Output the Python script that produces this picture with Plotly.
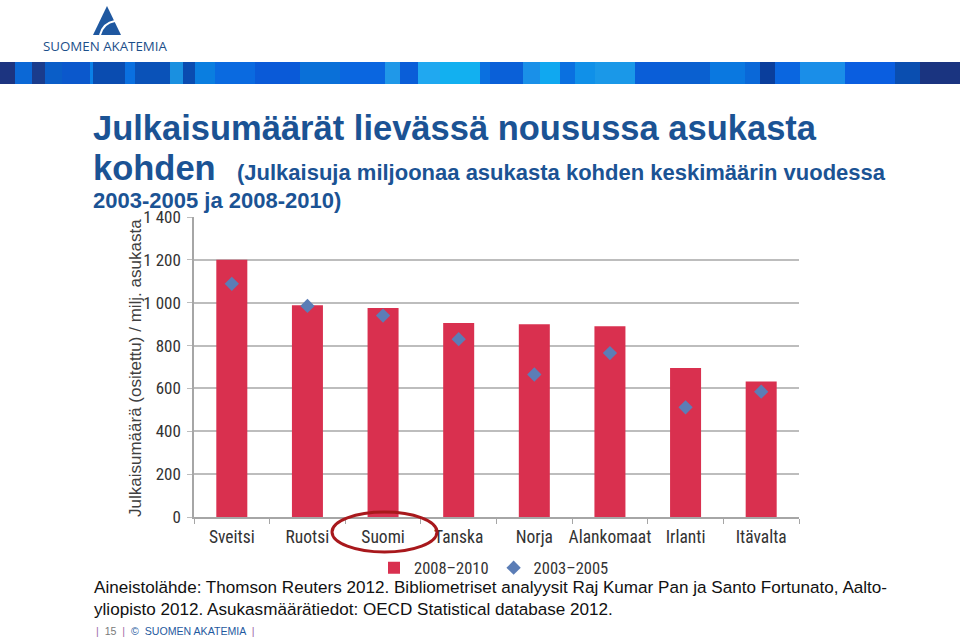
import plotly.graph_objects as go

# ---------------- data ----------------
categories = ["Sveitsi", "Ruotsi", "Suomi", "Tanska", "Norja", "Alankomaat", "Irlanti", "Itävalta"]
values_2008_2010 = [1200, 988, 975, 905, 900, 890, 695, 632]
values_2003_2005 = [1088, 985, 940, 830, 665, 765, 512, 585]
series_names = ["2008–2010", "2003–2005"]
y_tick_values = [0, 200, 400, 600, 800, 1000, 1200, 1400]
y_tick_labels = ["0", "200", "400", "600", "800", "1 000", "1 200", "1 400"]

# ---------------- geometry helpers (pixel -> paper) ----------------
W_FIG, H_FIG = 960, 638
L, R, T, B = 194, 799, 217, 517
PW, PH = R - L, B - T


def px(x):
    return (x - L) / PW


def py(y):
    return (B - y) / PH


NARROW = "Liberation Sans Narrow, Roboto Condensed, Arial Narrow, DejaVu Sans Condensed, sans-serif"
SANS = "Liberation Sans, Arial, Helvetica, sans-serif"
TITLE_BLUE = "#1b5394"

fig = go.Figure()
fig.add_trace(go.Bar(
    x=categories, y=values_2008_2010, name=series_names[0],
    marker=dict(color="#d9304f", line=dict(width=0)),
    width=0.41,
))
fig.add_trace(go.Scatter(
    x=categories, y=values_2003_2005, name=series_names[1], mode="markers",
    marker=dict(symbol="diamond", size=11, color="#5b7db6"),
))

shapes = []
annotations = []

# banner stripes
stripes = [
    (0, 15, "#1c3480"), (15, 32, "#0b68d6"), (32, 45, "#1a3c8c"), (45, 62, "#0a5ec8"),
    (62, 90, "#0b58cc"), (90, 93, "#0a80e8"), (93, 125, "#0a4cb0"), (125, 135, "#0a70e0"),
    (135, 170, "#0a52b8"), (170, 183, "#1a90e0"), (183, 195, "#0a4cb0"), (195, 215, "#0a7ee0"),
    (215, 255, "#0a6ae0"), (255, 300, "#0a5ad8"), (300, 340, "#0a70d8"), (340, 385, "#0a66e0"),
    (385, 400, "#2098e8"), (400, 418, "#0a5ed8"), (418, 440, "#20a8f0"), (440, 480, "#12b0f0"),
    (480, 490, "#0a70e0"), (490, 523, "#0a60d8"), (523, 540, "#1a90e8"), (540, 560, "#10a8f0"),
    (560, 575, "#0a70e0"), (575, 595, "#1090e8"), (595, 635, "#1a98e8"), (635, 670, "#0a5ed8"),
    (670, 710, "#0a60d0"), (710, 745, "#0a78e0"), (745, 760, "#0a68d8"), (760, 775, "#0a3e9c"),
    (775, 800, "#0a66e0"), (800, 845, "#1a8ee8"), (845, 895, "#0a5ee0"), (895, 920, "#0a4eb0"),
    (920, 960, "#1a3480"),
]
for x0, x1, c in stripes:
    shapes.append(dict(type="rect", xref="paper", yref="paper",
                       x0=px(x0), x1=px(x1), y0=py(84), y1=py(62),
                       fillcolor=c, line=dict(width=0), layer="below"))


def P(x, y):
    return f"{px(x):.5f},{py(y):.5f}"


# logo triangle
shapes.append(dict(type="path", xref="paper", yref="paper",
                   path=f"M {P(107, 6)} L {P(121, 35)} L {P(93, 35)} Z",
                   fillcolor="#1f58a0", line=dict(width=0)))
shapes.append(dict(type="path", xref="paper", yref="paper",
                   path=f"M {P(100, 35)} Q {P(103, 23)} {P(115, 21)}",
                   line=dict(color="white", width=2)))
annotations.append(dict(xref="paper", yref="paper", x=px(41), y=py(46), xanchor="left", yanchor="middle",
                        text="SUOMEN AKATEMIA", showarrow=False,
                        font=dict(family="Open Sans, Liberation Sans, sans-serif", size=13.3, color="#1c4f8a")))

# red ellipse around Suomi
shapes.append(dict(type="circle", xref="paper", yref="paper",
                   x0=px(332), x1=px(437), y0=py(552), y1=py(512),
                   line=dict(color="#a8181c", width=3)))

# titles
annotations.append(dict(xref="paper", yref="paper", x=px(91), y=py(128), xanchor="left", yanchor="middle",
                        text="<b>Julkaisumäärät lievässä nousussa asukasta</b>", showarrow=False,
                        font=dict(family=SANS, size=34.5, color=TITLE_BLUE)))
annotations.append(dict(xref="paper", yref="paper", x=px(91), y=py(168), xanchor="left", yanchor="middle",
                        text="<b>kohden</b>", showarrow=False,
                        font=dict(family=SANS, size=34.5, color=TITLE_BLUE)))
annotations.append(dict(xref="paper", yref="paper", x=px(235), y=py(172), xanchor="left", yanchor="middle",
                        text="<b>(Julkaisuja miljoonaa asukasta kohden keskimäärin vuodessa</b>", showarrow=False,
                        font=dict(family=SANS, size=22, color=TITLE_BLUE)))
annotations.append(dict(xref="paper", yref="paper", x=px(91), y=py(200), xanchor="left", yanchor="middle",
                        text="<b>2003-2005 ja 2008-2010)</b>", showarrow=False,
                        font=dict(family=SANS, size=22, color=TITLE_BLUE)))

# y-axis title
annotations.append(dict(xref="paper", yref="paper", x=px(135), y=py(368), xanchor="center", yanchor="middle",
                        textangle=-90, text="Julkaisumäärä (ositettu) / milj. asukasta", showarrow=False,
                        font=dict(family=SANS, size=17, color="#404040")))

# footer source
annotations.append(dict(xref="paper", yref="paper", x=px(92), y=py(598), xanchor="left", yanchor="middle",
                        align="left",
                        text="Aineistolähde: Thomson Reuters 2012. Bibliometriset analyysit Raj Kumar Pan ja Santo Fortunato, Aalto-<br>yliopisto 2012. Asukasmäärätiedot: OECD Statistical database 2012.",
                        showarrow=False,
                        font=dict(family=SANS, size=17.1, color="#111111")))

# bottom page bar
annotations.append(dict(xref="paper", yref="paper", x=px(94), y=py(631), xanchor="left", yanchor="middle",
                        text=("<span style='color:#9b6aa8'>|</span>  <span style='color:#7a7a7a'>15</span>  "
                              "<span style='color:#9b6aa8'>|</span>  <span style='color:#1f5aa0'>©  SUOMEN AKATEMIA</span>  "
                              "<span style='color:#9b6aa8'>|</span>"),
                        showarrow=False,
                        font=dict(family=SANS, size=10.6, color="#1f5aa0")))

fig.update_layout(
    width=W_FIG, height=H_FIG,
    margin=dict(l=L, r=W_FIG - R, t=T, b=H_FIG - B, pad=0),
    paper_bgcolor="white", plot_bgcolor="white",
    showlegend=True,
    legend=dict(orientation="h", x=px(494), y=py(568), xanchor="center", yanchor="middle",
                font=dict(family=NARROW, size=16.5, color="#333333"),
                itemwidth=30, tracegroupgap=0, bgcolor="rgba(0,0,0,0)"),
    bargap=0.59,
    xaxis=dict(
        type="category", showgrid=False, showline=True, linecolor="#a6a6a6", linewidth=1.5,
        ticks="outside", tickson="boundaries", ticklen=5, tickcolor="#a6a6a6", tickwidth=1,
        tickangle=0, ticklabelstandoff=3,
        tickfont=dict(family=NARROW, size=17.5, color="#333333"),
        range=[-0.5, len(categories) - 0.5],
    ),
    yaxis=dict(
        range=[0, 1400], tickvals=y_tick_values, ticktext=y_tick_labels,
        showgrid=True, gridcolor="#bdbdbd", gridwidth=1.5,
        showline=True, linecolor="#a6a6a6", linewidth=1.5,
        ticks="outside", ticklen=5, tickcolor="#bdbdbd", ticklabelstandoff=3,
        tickfont=dict(family=NARROW, size=17, color="#333333"),
        zeroline=False,
    ),
    shapes=shapes,
    annotations=annotations,
)

fig.write_html("out.html", config={"displayModeBar": False},
               post_script="document.body.style.margin='0';")
